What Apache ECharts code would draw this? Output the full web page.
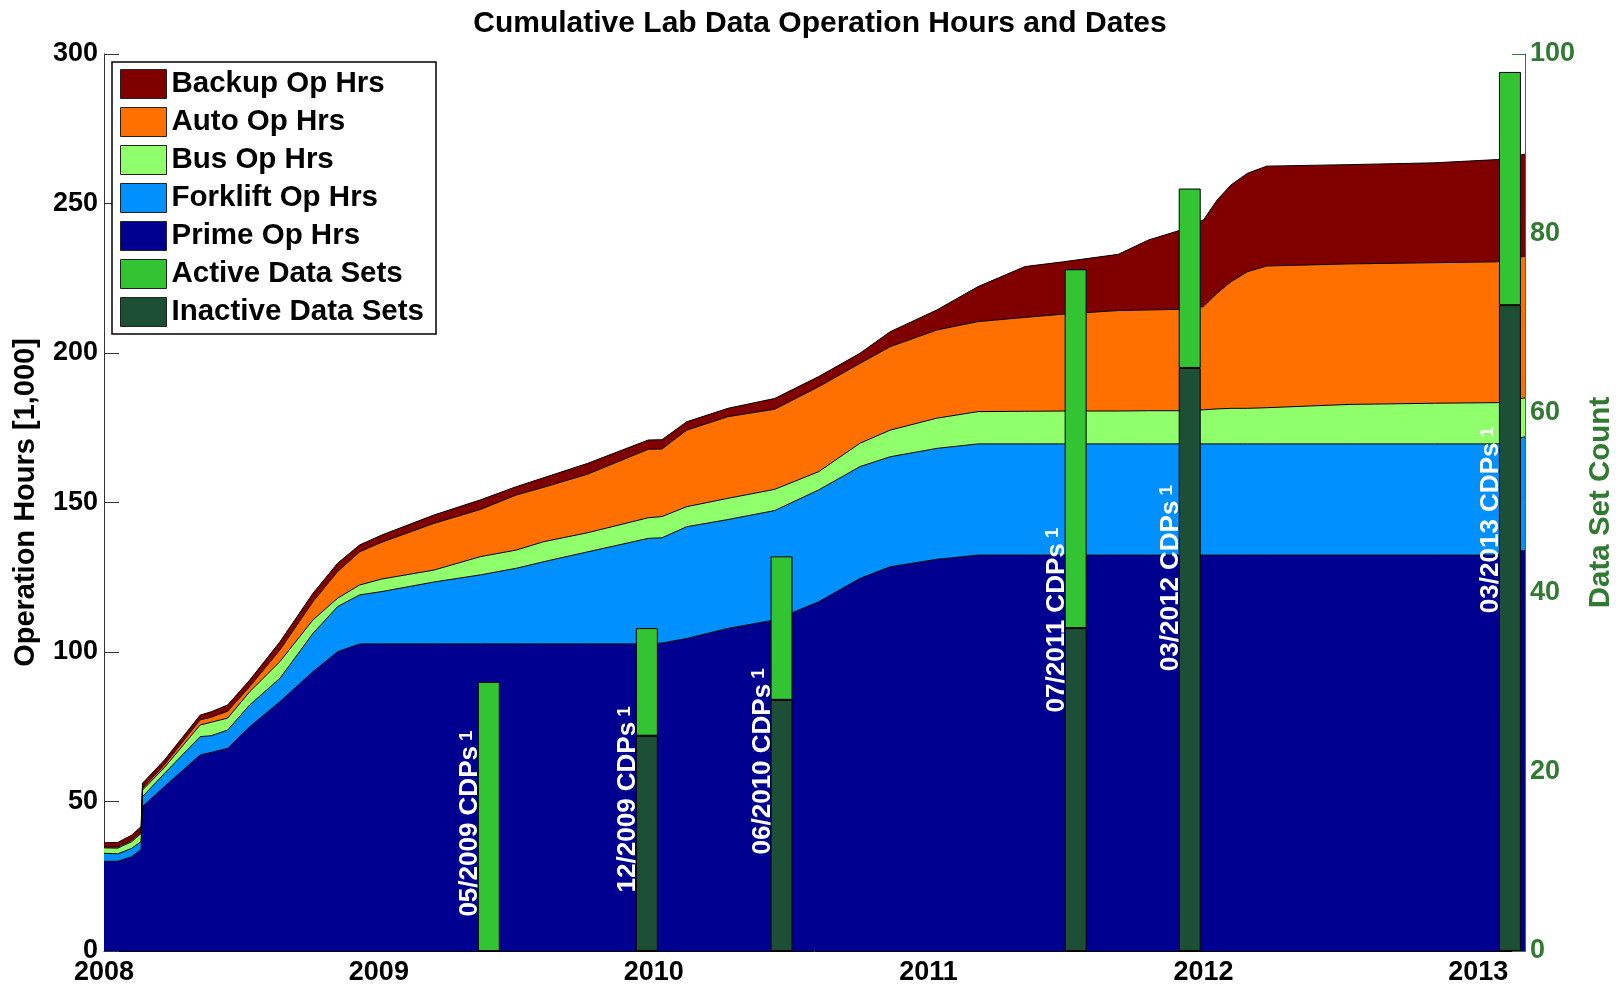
<!DOCTYPE html>
<html>
<head>
<meta charset="utf-8">
<title>Cumulative Lab Data Operation Hours and Dates</title>
<script src="https://cdn.jsdelivr.net/npm/echarts@6/dist/echarts.min.js"></script>
<style>
  html, body { margin: 0; padding: 0; background: #fff; }
  #chart { width: 1624px; height: 991px; }
</style>
</head>
<body>
<div id="chart"></div>
<script>
// decimal years for the cumulative hours curves
const dates = [2008.00, 2008.05, 2008.10, 2008.135, 2008.14, 2008.22, 2008.35, 2008.39, 2008.45, 2008.53,
  2008.64, 2008.76, 2008.85, 2008.93, 2009.01, 2009.20, 2009.37, 2009.50, 2009.60, 2009.76,
  2009.98, 2010.03, 2010.12, 2010.27, 2010.44, 2010.60, 2010.75, 2010.86, 2011.03, 2011.18,
  2011.35, 2011.49, 2011.69, 2011.80, 2011.91, 2012.00, 2012.05, 2012.10, 2012.16, 2012.23,
  2012.53, 2012.84, 2013.07, 2013.17];

// operation hours [1,000] per vehicle type (stacked)
const primeHrs = [30, 30, 31.5, 34, 48.3, 55, 65.6, 66.4, 67.8, 75,
  83.4, 93.4, 100.1, 102.7, 102.7, 102.7, 102.7, 102.7, 102.7, 102.7,
  102.7, 103, 104.5, 107.9, 110.7, 116.8, 124.6, 128.5, 131, 132.4,
  132.4, 132.4, 132.4, 132.4, 132.4, 132.4, 132.4, 132.4, 132.4, 132.4,
  132.4, 132.4, 132.4, 134];
const forkliftHrs = [2.7, 2.5, 2.8, 2.6, 3.3, 4.4, 6.1, 5.6, 6.1, 7.3,
  7.8, 12.8, 15.1, 16.4, 17.5, 20.7, 23.1, 25.3, 27.5, 30.8,
  35.3, 35.2, 37.4, 36.4, 36.6, 37.4, 37.4, 36.8, 37.1, 37.2,
  37.2, 37.2, 37.2, 37.2, 37.2, 37.2, 37.2, 37.2, 37.2, 37.2,
  37.2, 37.2, 37.2, 38];
const busHrs = [1.8, 1.9, 2.2, 2.7, 2.2, 2.0, 3.9, 4.5, 4.0, 4.4,
  5.6, 4.5, 2.8, 3.3, 4.2, 4.0, 6.1, 6.1, 6.7, 6.4,
  6.9, 7.1, 6.7, 7.1, 7.1, 6.1, 7.8, 8.9, 10.1, 10.8,
  10.9, 11.0, 11.0, 11.1, 11.1, 11.4, 11.7, 11.9, 11.9, 12.1,
  13.2, 13.6, 13.8, 13];
const autoHrs = [0.3, 0.4, 0.5, 0.5, 0.6, 0.9, 1.7, 1.7, 2.3, 1.7,
  3.9, 6.1, 8.9, 11.1, 12.3, 15.6, 15.8, 18.4, 18.2, 19.6,
  22.9, 22.6, 25.6, 27.3, 26.8, 28.4, 26.7, 27.9, 29.5, 30.1,
  31.4, 32.4, 33.6, 33.7, 33.9, 34.5, 38.7, 42.3, 45.7, 47.4,
  47.0, 47.0, 47.1, 47.4];
const backupHrs = [1.4, 1.5, 1.7, 1.8, 1.7, 1.6, 1.6, 1.8, 2.1, 2.2,
  2.7, 2.8, 2.8, 2.3, 2.4, 2.8, 3.2, 2.8, 3.2, 3.6,
  3.1, 3.1, 2.8, 2.8, 3.6, 3.4, 3.4, 5.0, 6.7, 11.7,
  17.0, 17.5, 18.8, 23.4, 26.3, 29.0, 31.2, 32.4, 32.9, 33.4,
  33.2, 33.4, 34.2, 34.1];

// CDP releases: date (decimal year), data set counts
const cdpNames = ["05/2009", "12/2009", "06/2010", "07/2011", "03/2012", "03/2013"];
const cdpDates = [2009.40, 2009.975, 2010.465, 2011.535, 2011.95, 2013.115];
const inactiveSets = [0, 24, 28, 36, 65, 72];
const activeSets = [30, 12, 16, 40, 20, 26];
// height (left axis) where each rotated CDP label starts
const cdpLabelY = [11.5, 19.6, 32.3, 79.8, 93.6, 113];

const yearTicks = [2008, 2009, 2010, 2011, 2012, 2013];

const FONT = "Liberation Sans, Arial, sans-serif";
const GREEN = "#317a31";

// value first, date second: keeps the stack on the y dimension
const pairs = (xs, ys) => xs.map((d, i) => [ys[i], d]);

const areaSeries = (name, values, color) => ({
  name,
  type: "line",
  stack: "hrs",
  symbol: "none",
  z: 1,
  encode: { x: 1, y: 0 },
  itemStyle: { color },
  lineStyle: { color: "#000", width: 1 },
  areaStyle: { color, opacity: 1 },
  data: pairs(dates, values)
});

const barSeries = (name, values, color) => ({
  name,
  type: "bar",
  yAxisIndex: 1,
  stack: "sets",
  barWidth: 22,
  z: 3,
  encode: { x: 1, y: 0 },
  itemStyle: { color, borderColor: "#000", borderWidth: 1 },
  data: pairs(cdpDates, values)
});

const labelText = { fontFamily: FONT, fontWeight: "bold", color: "#fff", textBorderWidth: 0, textShadowBlur: 0 };

const chart = echarts.init(document.getElementById("chart"));
chart.setOption({
  backgroundColor: "#fff",
  animation: false,
  textStyle: { fontFamily: FONT },
  title: {
    text: "Cumulative Lab Data Operation Hours and Dates",
    left: 815,
    top: 4,
    textAlign: "center",
    textStyle: { fontFamily: FONT, fontSize: 30, fontWeight: "bold", color: "#000" }
  },
  grid: { left: 104, right: 97, top: 54, bottom: 40 },
  legend: {
    orient: "vertical",
    left: 112,
    top: 62,
    padding: [7, 12, 7, 8],
    itemGap: 8,
    itemWidth: 46,
    itemHeight: 29,
    icon: "rect",
    backgroundColor: "#fff",
    borderColor: "#000",
    borderWidth: 1.5,
    borderRadius: 0,
    itemStyle: { borderColor: "#222", borderWidth: 1 },
    textStyle: { fontFamily: FONT, fontSize: 29.5, fontWeight: "bold", color: "#000", lineHeight: 30 },
    data: ["Backup Op Hrs", "Auto Op Hrs", "Bus Op Hrs", "Forklift Op Hrs", "Prime Op Hrs",
      "Active Data Sets", "Inactive Data Sets"]
  },
  xAxis: {
    type: "value",
    min: 2008,
    max: 2013.17,
    interval: 1,
    splitLine: { show: false },
    axisLine: { lineStyle: { color: "#000", width: 1 } },
    axisTick: { show: false },
    axisLabel: {
      fontFamily: FONT,
      fontSize: 27,
      fontWeight: "bold",
      color: "#000",
      margin: 8,
      showMaxLabel: false,
      formatter: (v) => (yearTicks.includes(v) ? String(v) : "")
    }
  },
  yAxis: [
    {
      type: "value",
      min: 0,
      max: 300,
      interval: 50,
      name: "Operation Hours [1,000]",
      nameLocation: "middle",
      nameRotate: 90,
      nameGap: 64,
      nameTextStyle: { fontFamily: FONT, fontSize: 29, fontWeight: "bold", color: "#000" },
      splitLine: { show: false },
      axisLine: { show: true, lineStyle: { color: "#333", width: 1 } },
      axisTick: { show: true, inside: true, length: 15, lineStyle: { color: "#333" } },
      axisLabel: { fontFamily: FONT, fontSize: 27, fontWeight: "bold", color: "#000", margin: 6 }
    },
    {
      type: "value",
      min: 0,
      max: 100,
      interval: 20,
      position: "right",
      name: "Data Set Count",
      nameLocation: "middle",
      nameRotate: 90,
      nameGap: 55,
      nameTextStyle: { fontFamily: FONT, fontSize: 29.5, fontWeight: "bold", color: GREEN },
      splitLine: { show: false },
      axisLine: { show: true, lineStyle: { color: GREEN, width: 1 } },
      axisTick: { show: true, inside: true, length: 13, lineStyle: { color: GREEN } },
      axisLabel: { fontFamily: FONT, fontSize: 27, fontWeight: "bold", color: GREEN, margin: 5 }
    }
  ],
  series: [
    areaSeries("Prime Op Hrs", primeHrs, "#000090"),
    areaSeries("Forklift Op Hrs", forkliftHrs, "#0090ff"),
    areaSeries("Bus Op Hrs", busHrs, "#8fff6b"),
    areaSeries("Auto Op Hrs", autoHrs, "#ff7000"),
    areaSeries("Backup Op Hrs", backupHrs, "#800000"),
    barSeries("Inactive Data Sets", inactiveSets, "#1c4f36"),
    barSeries("Active Data Sets", activeSets, "#33c433"),
    {
      type: "scatter",
      symbolSize: 0,
      z: 4,
      silent: true,
      itemStyle: { opacity: 1 },
      label: {
        show: true,
        position: "inside",
        rotate: 90,
        align: "left",
        verticalAlign: "bottom",
        offset: [0, -6],
        color: "#fff",
        opacity: 1,
        textBorderWidth: 0,
        formatter: (p) => `{t|${cdpNames[p.dataIndex]} CDPs}{s|1}`,
        rich: {
          t: { ...labelText, fontSize: 26 },
          s: { ...labelText, fontSize: 19, verticalAlign: "top", padding: [0, 0, 0, 5] }
        }
      },
      data: cdpDates.map((d, i) => [d, cdpLabelY[i]])
    }
  ]
});
</script>
</body>
</html>
